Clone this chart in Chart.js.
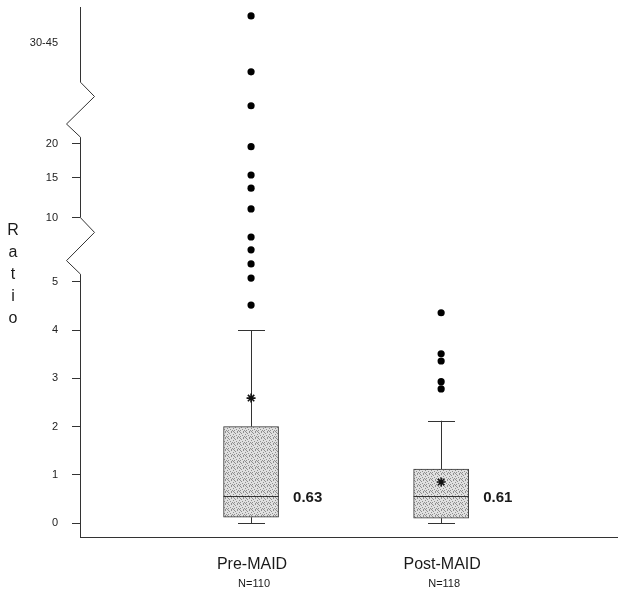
<!DOCTYPE html>
<html>
<head>
<meta charset="utf-8">
<script src="https://cdn.jsdelivr.net/npm/chart.js@4.4.1/dist/chart.umd.min.js"></script>
<style>
  html, body { margin:0; padding:0; background:#fff; }
  #wrap { width:624px; height:596px; }
</style>
</head>
<body>
<div id="wrap"><canvas id="chart" width="624" height="596"></canvas></div>
<script>
// values (ratio units)
const groups = ["Pre-MAID", "Post-MAID"];
const groupN = ["N=110", "N=118"];
const whiskerLow = [0, 0];
const q1 = [0.12, 0.10];
const median = [0.56, 0.56];
const q3 = [2.0, 1.12];
const whiskerHigh = [4.0, 2.12];
const means = [2.59, 0.85];
const medianLabels = ["0.63", "0.61"];
const preOutliers = [4.52, 5.3, 6.4, 7.5, 8.5, 11.1, 13.7, 15.4, 19.6, 30.6, 35.7, 44.1];
const postOutliers = [2.78, 2.93, 3.36, 3.51, 4.36];

const tickValues = [0, 1, 2, 3, 4, 5, 10, 15, 20, 40];
const tickLabels = ["0", "1", "2", "3", "4", "5", "10", "15", "20", "30-45"];

// broken axis: value -> axis unit (piecewise linear)
const breakValues = [0, 5, 10, 15, 20, 30, 45];
const breakUnits  = [0, 5, 6.33, 7.16, 7.86, 8.57, 10.64];

function toAxis(v){
  for(let i=1;i<breakValues.length;i++){
    if(v <= breakValues[i] || i === breakValues.length-1){
      const a = breakValues[i-1], b = breakValues[i];
      return breakUnits[i-1] + (v-a)/(b-a)*(breakUnits[i]-breakUnits[i-1]);
    }
  }
}

const FONT = "'Liberation Sans', Arial, sans-serif";
const INK = "#1a1a1a";

function stipple(){
  const c = document.createElement("canvas");
  c.width = 6; c.height = 6;
  const g = c.getContext("2d");
  g.fillStyle = "#e0e0e0"; g.fillRect(0,0,6,6);
  g.fillStyle = "#8f8f8f";
  [[0,0],[3,0],[1,1],[5,2],[2,3],[4,4],[0,4],[3,5],[5,5]].forEach(p => g.fillRect(p[0],p[1],1,1));
  return g.createPattern(c, "repeat");
}

const axisBreaks = [[5.16, 6.33], [8.0, 9.14]];

const boxExtras = {
  id:"boxExtras",
  beforeDatasetsDraw(chart){
    const {ctx, scales:{x, y}} = chart;
    ctx.save();
    ctx.strokeStyle = "#333"; ctx.lineWidth = 1;
    groups.forEach((g,i) => {
      const px = Math.round(x.getPixelForValue(i+1)) + 0.5;
      const segs = [[whiskerLow[i], q1[i]], [q3[i], whiskerHigh[i]]];
      ctx.beginPath();
      segs.forEach(s => {
        ctx.moveTo(px, y.getPixelForValue(toAxis(s[0])));
        ctx.lineTo(px, y.getPixelForValue(toAxis(s[1])));
      });
      [whiskerLow[i], whiskerHigh[i]].forEach(v => {
        const py = Math.round(y.getPixelForValue(toAxis(v))) + 0.5;
        ctx.moveTo(px-13.5, py); ctx.lineTo(px+13.5, py);
      });
      ctx.stroke();
    });
    ctx.restore();
  },
  afterDatasetsDraw(chart){
    const {ctx, scales:{x, y}} = chart;
    ctx.save();
    ctx.strokeStyle = "#333"; ctx.lineWidth = 1;
    groups.forEach((g,i) => {
      const px = x.getPixelForValue(i+1);
      const py = Math.round(y.getPixelForValue(toAxis(median[i]))) + 0.5;
      ctx.beginPath(); ctx.moveTo(px-27.5, py); ctx.lineTo(px+27.5, py); ctx.stroke();
      ctx.fillStyle = INK;
      ctx.font = "bold 15px " + FONT;
      ctx.textAlign = "left"; ctx.textBaseline = "middle";
      ctx.fillText(medianLabels[i], px+42, py+1);
    });
    ctx.restore();
  },
  afterDraw(chart){
    const {ctx, chartArea, scales:{x, y}} = chart;
    ctx.save();
    // y axis line with zigzag breaks
    const ax = chartArea.left + 0.5;
    ctx.strokeStyle = "#333"; ctx.lineWidth = 1;
    ctx.beginPath();
    ctx.moveTo(ax, chartArea.bottom);
    axisBreaks.forEach(b => {
      const span = b[1]-b[0];
      ctx.lineTo(ax, y.getPixelForValue(b[0]));
      ctx.lineTo(ax-14, y.getPixelForValue(b[0]+0.24*span));
      ctx.lineTo(ax+14, y.getPixelForValue(b[0]+0.74*span));
      ctx.lineTo(ax, y.getPixelForValue(b[1]));
    });
    ctx.lineTo(ax, chartArea.top);
    ctx.stroke();
    // group labels
    ctx.fillStyle = INK;
    ctx.textAlign = "center"; ctx.textBaseline = "middle";
    groups.forEach((g,i) => {
      const px = x.getPixelForValue(i+1) + 1;
      ctx.font = "16px " + FONT;
      ctx.fillText(g, px, 565);
      ctx.font = "11px " + FONT;
      ctx.fillText(groupN[i], px+2, 584);
    });
    // y title, stacked letters
    ctx.font = "16px " + FONT;
    "Ratio".split("").forEach((ch,k) => ctx.fillText(ch, 13, 231 + k*22));
    ctx.restore();
  }
};

new Chart(document.getElementById("chart"), {
  type:"bar",
  data:{
    datasets:[
      {
        type:"bar", order:2,
        data: groups.map((g,i) => ({x:i+1, y:[toAxis(q1[i]), toAxis(q3[i])]})),
        backgroundColor: stipple(), borderColor:"#333", borderWidth:1,
        borderSkipped:false, barThickness:55
      },
      {
        type:"scatter", order:1,
        data: preOutliers.map(v => ({x:1, y:toAxis(v)})).concat(postOutliers.map(v => ({x:2, y:toAxis(v)}))),
        pointStyle:"circle", pointRadius:3.6, backgroundColor:"#000", borderColor:"#000", borderWidth:0
      },
      {
        type:"scatter", order:0,
        data: means.map((v,i) => ({x:i+1, y:toAxis(v)})),
        pointStyle:"star", pointRadius:4.5, borderColor:"#111", borderWidth:1.6, backgroundColor:"#111"
      }
    ]
  },
  options:{
    responsive:false, animation:false,
    layout:{padding:{top:7, right:6, left:0, bottom:0}},
    plugins:{legend:{display:false}, tooltip:{enabled:false}},
    events:[],
    scales:{
      x:{
        type:"linear", min:0.1, max:2.93, offset:false,
        ticks:{display:false}, grid:{display:false},
        border:{display:true, color:"#333", width:1},
        afterFit:s => { s.height = 59; s.paddingLeft = 0; s.paddingRight = 0; }
      },
      y:{
        type:"linear", min:-0.29, max:10.7,
        afterBuildTicks:s => { s.ticks = tickValues.map(v => ({value:toAxis(v)})); },
        ticks:{
          autoSkip:false, padding:14, color:"#222",
          font:{family:FONT, size:11},
          callback:(v, i) => tickLabels[i]
        },
        grid:{
          display:true, drawOnChartArea:false, drawTicks:true, tickLength:8, lineWidth:1,
          color:c => c.index === tickValues.length-1 ? "rgba(0,0,0,0)" : "#333"
        },
        border:{display:false},
        afterFit:s => { s.width = 80; s.paddingTop = 0; s.paddingBottom = 0; }
      }
    }
  },
  plugins:[boxExtras]
});
</script>
</body>
</html>
